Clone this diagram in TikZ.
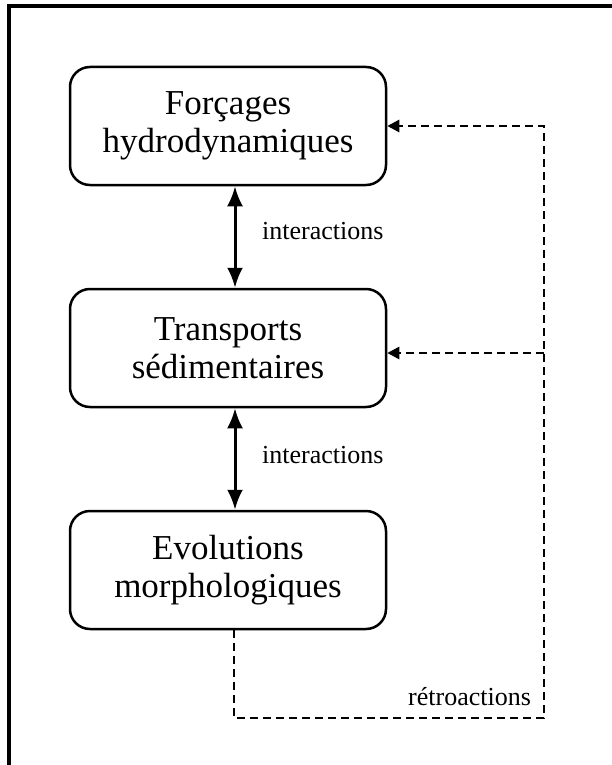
\documentclass[tikz,border=0pt]{standalone}
\usepackage{fontspec}
\setmainfont{Liberation Serif}
\usetikzlibrary{arrows.meta, positioning, calc}

\begin{document}
\begin{tikzpicture}[x=1pt, y=-1pt,
    node distance=101.5pt,
    bloc/.style={rectangle, rounded corners=20pt, draw, line width=2.5pt, align=center,
        minimum width=316pt, minimum height=118pt, inner sep=0pt,
        font=\fontsize{35}{38}\selectfont},
    lbl/.style={inner sep=0pt, font=\fontsize{26}{28}\selectfont},
    inter/.style={line width=3pt, {Latex[length=20pt,width=16pt]}-{Latex[length=20pt,width=16pt]}},
    retro/.style={line width=2.6pt, dash pattern=on 8pt off 5pt, -{Triangle[length=12pt,width=12pt]}},
    ]
    \useasboundingbox (0,0) rectangle (611,765);
    % Cadre
    \draw[line width=4pt] (9,767) -- (9,6) -- (613,6);

    % Blocs
    \node[bloc] (forc) at (228,126) {Forçages\\hydrodynamiques};
    \node[bloc] (trans) [below=of forc] {Transports\\sédimentaires};
    \node[bloc] (evol) [below=of trans] {Evolutions\\morphologiques};

    % Interactions
    \draw[inter] ([xshift=7pt]forc.south) -- ([xshift=7pt]trans.north);
    \draw[inter] ([xshift=7pt]trans.south) -- ([xshift=7pt]evol.north);
    \node[lbl, anchor=base west] (int1) at (262,239) {interactions};
    \node[lbl, anchor=base west] (int2) at (262,463) {interactions};

    % Retroactions
    \coordinate (rb) at (544,718);
    \coordinate (mt) at ([yshift=-5pt]trans.east);
    \draw[retro] ([xshift=6pt]evol.south) |- (rb) |- (forc.east);
    \draw[retro] (mt -| rb) -- (mt);
    \node[lbl, anchor=base west] (ret) at (408,705) {rétroactions};
\end{tikzpicture}
\end{document}
